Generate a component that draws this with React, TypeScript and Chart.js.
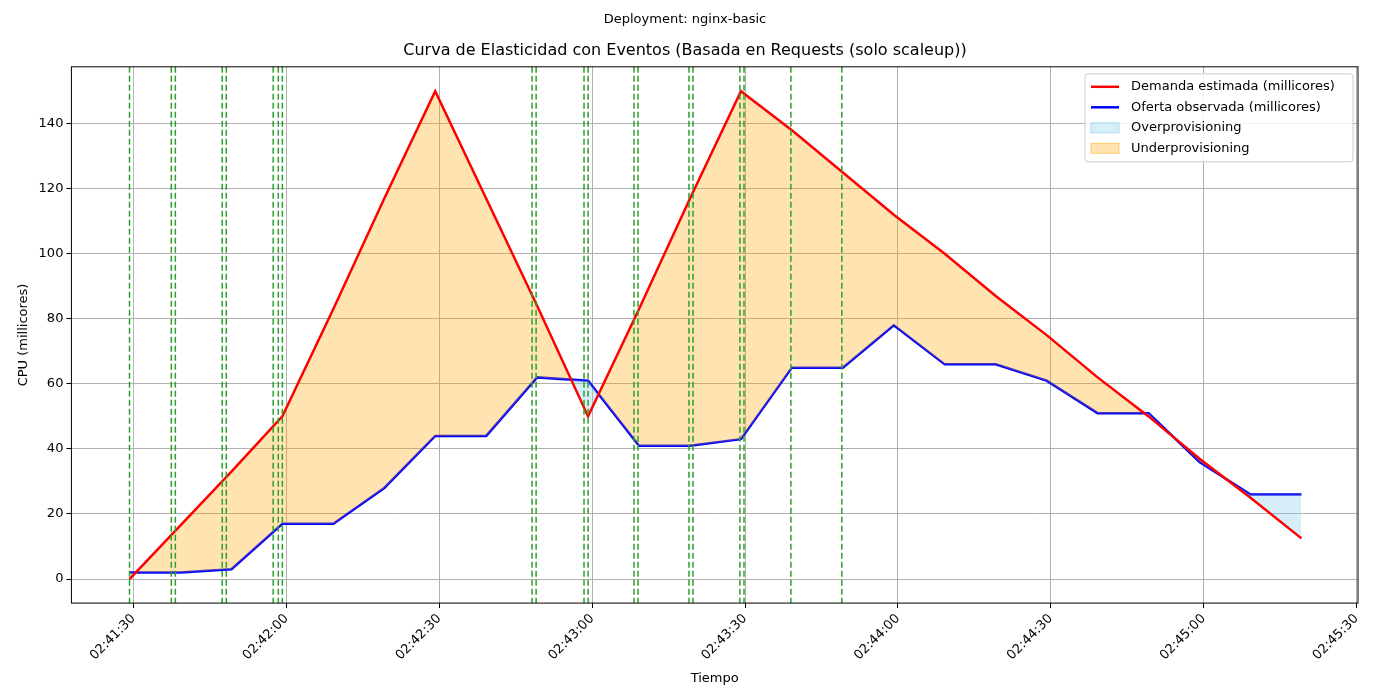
import { useEffect, useRef } from "react"
import Chart from "chart.js/auto"

// seconds after 02:41:00
const times = [29.2, 39.2, 49.2, 59.2, 69.2, 79.2, 89.2, 99.2, 109.2, 119.2, 129.2, 139.2, 149.2, 159.2, 169.2, 179.2, 189.2, 199.2, 209.2, 219.2, 229.2, 239.2, 249.2, 259.2]
const demand = [0, 16.5, 33, 50, 83, 117, 150, 117, 84, 50, 83, 117, 150, 138, 125, 112, 100, 87, 75, 62, 50, 37, 25, 12.5]
const supply = [2, 2, 3, 17, 17, 28, 44, 44, 62, 61, 41, 41, 43, 65, 65, 78, 66, 66, 61, 51, 51, 36, 26, 26]
const events = [29.2, 37.4, 38.2, 47.4, 48.2, 57.4, 58.4, 59.2, 108.2, 109, 118.4, 119.2, 128.2, 129, 139, 139.8, 149, 149.8, 159, 169]
const xTicks = [30, 60, 90, 120, 150, 180, 210, 240, 270]
const yTicks = [0, 20, 40, 60, 80, 100, 120, 140]

const FONT = "DejaVu Sans"
const ORANGE = "rgba(255,165,0,0.3)"
const LIGHTBLUE = "rgba(135,206,235,0.35)"

function fmt(s: number) {
  const total = 2 * 3600 + 41 * 60 + s
  const h = Math.floor(total / 3600)
  const m = Math.floor((total % 3600) / 60)
  const sec = Math.round(total % 60)
  const p = (n: number) => String(n).padStart(2, "0")
  return `${p(h)}:${p(m)}:${p(sec)}`
}

const extras = {
  id: "extras",
  afterDatasetsDraw(chart: any) {
    const { ctx, chartArea: a, scales } = chart
    ctx.save()
    // event lines
    ctx.strokeStyle = "#2ca02c"
    ctx.lineWidth = 1.5
    ctx.setLineDash([6, 3])
    for (const e of events) {
      const x = scales.x.getPixelForValue(e)
      ctx.beginPath()
      ctx.moveTo(x, a.top)
      ctx.lineTo(x, a.bottom)
      ctx.stroke()
    }
    ctx.setLineDash([])
    // frame
    ctx.strokeStyle = "#000"
    ctx.lineWidth = 1
    ctx.strokeRect(a.left, a.top, a.right - a.left, a.bottom - a.top)
    // legend
    const lx = a.right - 273, ly = a.top + 7, w = 268, h = 88
    ctx.fillStyle = "rgba(255,255,255,0.85)"
    ctx.strokeStyle = "#ccc"
    ctx.beginPath()
    ctx.roundRect(lx, ly, w, h, 3)
    ctx.fill()
    ctx.stroke()
    const items = [
      ["line", "red", "Demanda estimada (millicores)"],
      ["line", "blue", "Oferta observada (millicores)"],
      ["rect", LIGHTBLUE, "Overprovisioning"],
      ["rect", ORANGE, "Underprovisioning"],
    ]
    ctx.font = `13px ${FONT}`
    ctx.textBaseline = "middle"
    items.forEach(([k, c, t], i) => {
      const y = ly + 13 + i * 20.5
      if (k === "line") {
        ctx.strokeStyle = c
        ctx.lineWidth = 2.5
        ctx.beginPath()
        ctx.moveTo(lx + 6, y)
        ctx.lineTo(lx + 34, y)
        ctx.stroke()
      } else {
        ctx.fillStyle = c
        ctx.fillRect(lx + 6, y - 5, 28, 10)
        ctx.strokeStyle = c === ORANGE ? "rgba(255,165,0,0.5)" : "rgba(135,206,235,0.6)"
        ctx.lineWidth = 1
        ctx.strokeRect(lx + 6, y - 5, 28, 10)
      }
      ctx.fillStyle = "#000"
      ctx.fillText(t, lx + 46, y)
    })
    ctx.restore()
  },
}

export default function App() {
  const ref = useRef<HTMLCanvasElement>(null)
  useEffect(() => {
    document.body.style.margin = "0"
    if (!ref.current) return
    const chart = new Chart(ref.current, {
      type: "line",
      data: {
        datasets: [
          {
            label: "Demanda estimada (millicores)",
            data: times.map((t, i) => ({ x: t, y: demand[i] })),
            borderColor: "red",
            borderWidth: 2.5,
            pointRadius: 0,
            fill: { target: 1, above: ORANGE, below: LIGHTBLUE },
          },
          {
            label: "Oferta observada (millicores)",
            data: times.map((t, i) => ({ x: t, y: supply[i] })),
            borderColor: "blue",
            borderWidth: 2.5,
            pointRadius: 0,
            fill: false,
          },
        ],
      },
      options: {
        animation: false,
        responsive: false,
        layout: { padding: { left: 12, right: 42, top: 0, bottom: 10 } },
        plugins: {
          legend: { display: false },
          tooltip: { enabled: false },
          title: { display: true, text: "Deployment: nginx-basic", color: "#000", font: { family: FONT, size: 13, weight: "normal" }, padding: { top: 12, bottom: 14 } },
          subtitle: { display: true, text: "Curva de Elasticidad con Eventos (Basada en Requests (solo scaleup))", color: "#000", font: { family: FONT, size: 16 }, padding: { bottom: 6 } },
        },
        scales: {
          x: {
            type: "linear",
            min: 17.8,
            max: 270.3,
            afterBuildTicks: (s: any) => { s.ticks = xTicks.map((v) => ({ value: v })) },
            ticks: { callback: (v: any) => fmt(Number(v)), maxRotation: 45, minRotation: 45, color: "#000", font: { family: FONT, size: 13 } },
            grid: { color: "#b0b0b0", drawTicks: true, tickColor: "#000", tickLength: 5 },
            border: { display: false },
            title: { display: true, text: "Tiempo", color: "#000", font: { family: FONT, size: 13 } },
          },
          y: {
            min: -7.4,
            max: 157.5,
            afterBuildTicks: (s: any) => { s.ticks = yTicks.map((v) => ({ value: v })) },
            ticks: { color: "#000", font: { family: FONT, size: 13 } },
            grid: { color: "#b0b0b0", tickColor: "#000", tickLength: 5 },
            border: { display: false },
            title: { display: true, text: "CPU (millicores)", color: "#000", font: { family: FONT, size: 13 } },
          },
        },
      },
      plugins: [extras],
    })
    return () => chart.destroy()
  }, [])
  return <canvas ref={ref} width={1400} height={700} style={{ display: "block" }} />
}
